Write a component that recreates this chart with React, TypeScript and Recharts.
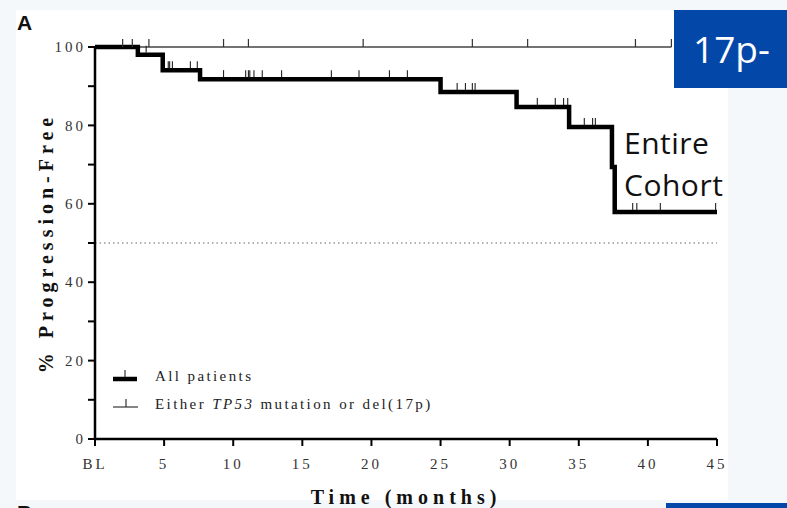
import React from 'react';
import { ComposedChart, Line, Scatter, XAxis, YAxis, ReferenceLine, Legend, Label } from 'recharts';

// Kaplan-Meier step points, all patients (months / % progression-free)
const stepTimes = [0, 3.1, 4.9, 7.6, 25.0, 30.5, 34.3, 37.4, 37.6, 45];
const stepSurvival = [100, 98, 94.1, 91.8, 88.5, 84.7, 79.6, 69.4, 57.9, 57.9];

// censored observations, all patients
const censorTimes = [
  3.7, 5.3, 5.4, 5.6, 6.9, 7.4, 9.3, 10.9, 11.1, 11.2, 11.5, 12.1, 13.5, 17.1, 19.1, 21.3, 22.6,
  26.2, 26.8, 27.3, 27.5, 32.0, 33.3, 33.9, 34.2, 35.4, 36.0, 36.2, 38.9, 39.2, 40.9, 44.9,
];

// TP53 mutation or del(17p): nobody progressed
const tp53Times = [0, 41.7];
const tp53Survival = [100, 100];
const tp53Censor = [2.0, 2.7, 3.9, 9.3, 11.1, 19.4, 27.3, 31.3, 39.1, 41.7];

const xTicks = [0, 5, 10, 15, 20, 25, 30, 35, 40, 45];
const yTicks = [0, 10, 20, 30, 40, 50, 60, 70, 80, 90, 100];
const medianLevel = 50;

const legendItems = [
  { key: 'all', label: 'All patients' },
  { key: 'tp53', label: 'Either TP53 mutation or del(17p)' },
];

const levelAt = (t: number) => {
  let idx = 0;
  stepTimes.forEach((st, i) => {
    if (st <= t) idx = i;
  });
  return stepSurvival[idx];
};

const allData = stepTimes.map((t, i) => ({ t, s: stepSurvival[i] }));
const allCensorData = censorTimes.map((t) => ({ t, s: levelAt(t) }));
const tp53Data = tp53Times.map((t, i) => ({ t, s: tp53Survival[i] }));
const tp53CensorData = tp53Censor.map((t) => ({ t, s: tp53Survival[0] }));

const serif = '"Liberation Serif", "DejaVu Serif", serif';
const sans = '"Open Sans", "Noto Sans", sans-serif';

const YTick = (props: any) => {
  const { x, y, payload } = props;
  if (payload.value % 20 !== 0) return null;
  return (
    <text x={x} y={y} dy="0.35em" textAnchor="end" fontFamily={serif} fontSize={15} fill="#333" letterSpacing={3}>
      {payload.value}
    </text>
  );
};

const YLabel = (props: any) => {
  const { viewBox } = props;
  const cx = 46;
  const cy = viewBox.y + viewBox.height / 2;
  return (
    <text
      x={cx}
      y={cy}
      transform={`rotate(-90, ${cx}, ${cy})`}
      textAnchor="middle"
      dominantBaseline="central"
      fontFamily={serif}
      fontWeight="bold"
      fontSize={20}
      letterSpacing={5}
      fill="#111"
    >
      % Progression-Free
    </text>
  );
};

const XLabel = (props: any) => {
  const { viewBox } = props;
  return (
    <text
      x={viewBox.x + viewBox.width / 2}
      y={504}
      textAnchor="middle"
      fontFamily={serif}
      fontWeight="bold"
      fontSize={20}
      letterSpacing={5}
      fill="#111"
    >
      Time (months)
    </text>
  );
};

const ThickCensor = (p: any) => (
  <line x1={p.cx} y1={p.cy - 2} x2={p.cx} y2={p.cy - 9} stroke="#222" strokeWidth={1.1} />
);

const ThinCensor = (p: any) => (
  <line x1={p.cx} y1={p.cy} x2={p.cx} y2={p.cy - 8} stroke="#333" strokeWidth={1.2} />
);

const LegendBox = () => (
  <div style={{ fontFamily: serif, fontSize: 15, color: '#222', letterSpacing: 2.4 }}>
    {legendItems.map((item) => (
      <div key={item.key} style={{ display: 'flex', alignItems: 'center', height: 28 }}>
        <svg width={40} height={20} style={{ marginRight: 2 }}>
          {item.key === 'all' ? (
            <>
              <line x1={0} y1={13} x2={24} y2={13} stroke="#000" strokeWidth={4.5} />
              <line x1={12} y1={11} x2={12} y2={4} stroke="#222" strokeWidth={1.1} />
            </>
          ) : (
            <>
              <line x1={0} y1={13} x2={25} y2={13} stroke="#444" strokeWidth={1.3} />
              <line x1={13} y1={13} x2={13} y2={5} stroke="#333" strokeWidth={1.2} />
            </>
          )}
        </svg>
        <span>
          {item.key === 'all' ? (
            item.label
          ) : (
            <>
              Either <i>TP53</i> mutation or del(17p)
            </>
          )}
        </span>
      </div>
    ))}
  </div>
);

export default function App() {
  return (
    <div
      style={{
        position: 'absolute',
        left: 0,
        top: 0,
        width: 787,
        height: 508,
        overflow: 'hidden',
        background: '#f4f8fb',
      }}
    >
      <div style={{ position: 'absolute', left: 16, top: 10, width: 712, height: 490, background: '#fff' }} />
      <div
        style={{
          position: 'absolute',
          left: 17,
          top: 11,
          fontFamily: '"Liberation Sans", Arial, sans-serif',
          fontWeight: 'bold',
          fontSize: 21,
          lineHeight: '24px',
          color: '#111',
        }}
      >
        A
      </div>
      <div
        style={{
          position: 'absolute',
          left: 17,
          top: 501,
          fontFamily: '"Liberation Sans", Arial, sans-serif',
          fontWeight: 'bold',
          fontSize: 21,
          lineHeight: '24px',
          color: '#111',
        }}
      >
        B
      </div>

      <div style={{ position: 'absolute', left: 0, top: 0 }}>
        <ComposedChart width={787} height={508} margin={{ top: 47, right: 70, bottom: 0, left: 0 }}>
          <XAxis
            dataKey="t"
            type="number"
            domain={[0, 45]}
            ticks={xTicks}
            allowDataOverflow
            height={69}
            tickSize={7}
            tickMargin={12}
            tickFormatter={(v: number) => (v === 0 ? 'BL' : String(v))}
            tick={{ fontFamily: serif, fontSize: 15, fill: '#333', letterSpacing: 3 }}
            axisLine={{ stroke: '#000', strokeWidth: 2.5 }}
            tickLine={{ stroke: '#000', strokeWidth: 2 }}
          >
            <Label content={XLabel} />
          </XAxis>
          <YAxis
            type="number"
            domain={[0, 100]}
            ticks={yTicks}
            width={95}
            tickSize={7}
            tickMargin={2}
            tick={YTick}
            axisLine={{ stroke: '#000', strokeWidth: 2.5 }}
            tickLine={{ stroke: '#000', strokeWidth: 2 }}
          >
            <Label content={YLabel} />
          </YAxis>
          <ReferenceLine y={medianLevel} stroke="#999" strokeWidth={1.5} strokeDasharray="1.5 3" />
          <Line
            data={tp53Data}
            dataKey="s"
            type="linear"
            stroke="#444"
            strokeWidth={1.3}
            dot={false}
            isAnimationActive={false}
          />
          <Line
            data={allData}
            dataKey="s"
            type="stepAfter"
            stroke="#000"
            strokeWidth={4.5}
            strokeLinejoin="miter"
            dot={false}
            isAnimationActive={false}
          />
          <Scatter data={tp53CensorData} dataKey="s" shape={ThinCensor} isAnimationActive={false} />
          <Scatter data={allCensorData} dataKey="s" shape={ThickCensor} isAnimationActive={false} />
          <Legend
            content={LegendBox}
            layout="vertical"
            align="center"
            verticalAlign="middle"
            wrapperStyle={{ position: 'absolute', left: 113, top: 362, width: 360 }}
          />
        </ComposedChart>
      </div>

      <div
        style={{
          position: 'absolute',
          left: 624,
          top: 122,
          fontFamily: sans,
          fontSize: 30,
          lineHeight: '42px',
          color: '#111',
          letterSpacing: 0.5,
        }}
      >
        Entire
        <br />
        Cohort
      </div>

      <div
        style={{
          position: 'absolute',
          left: 674,
          top: 10,
          width: 113,
          height: 78,
          background: '#0348a9',
        }}
      >
        <span
          style={{
            position: 'absolute',
            left: 19,
            top: 0,
            fontFamily: sans,
            fontSize: 37,
            lineHeight: '78px',
            color: '#fff',
          }}
        >
          17p-
        </span>
      </div>
      <div style={{ position: 'absolute', left: 666, top: 503, width: 121, height: 5, background: '#0348a9' }} />
    </div>
  );
}
